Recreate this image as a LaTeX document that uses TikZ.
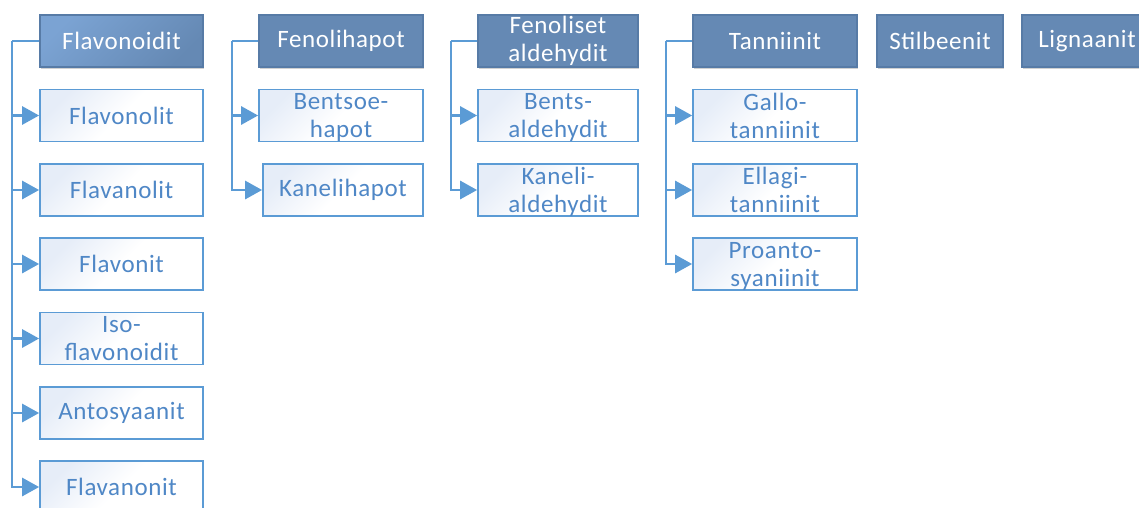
\documentclass[tikz,border=0pt]{standalone}
\usepackage{fontspec}
\setmainfont[LetterSpace=2.5]{Carlito}
\usetikzlibrary{arrows.meta,shadows}
\definecolor{headfill}{HTML}{6589B4}
\definecolor{headdraw}{HTML}{577BA6}
\definecolor{headlight}{HTML}{7BA3D3}
\definecolor{childdraw}{HTML}{5B9BD5}
\definecolor{childtext}{HTML}{4F87C6}
\definecolor{childlight}{HTML}{E6EDF8}
\definecolor{conncol}{HTML}{5B9BD5}
\tikzset{
  headbox/.style={rectangle, draw=headdraw, line width=1.2pt, fill=headfill,
    text=white, minimum height=52pt, inner sep=0pt, align=center,
    font=\fontsize{25}{28}\selectfont,
    drop shadow={shadow xshift=0.5pt, shadow yshift=-2pt, opacity=0.18, fill=black}},
  childbox/.style={rectangle, draw=childdraw, line width=1.7pt,
    top color=childlight, bottom color=white, middle color=white, shading angle=45,
    text=childtext, minimum height=52pt, inner sep=0pt, align=center,
    font=\fontsize{25}{28}\selectfont},
  twoline/.style={text depth=0pt},
  bus/.style={draw=conncol, line width=2.8pt},
  arr/.style={draw=conncol, line width=2.8pt,
    -{Triangle[length=17pt,width=18pt,fill=conncol]}}
}
\begin{document}
\begin{tikzpicture}[x=1pt,y=-1pt]
\useasboundingbox (0,0) rectangle (1139,508);
% headers
\node[headbox, minimum width=163pt, top color=headlight, bottom color=headfill, shading angle=45] (flav) at (121.5,41) {Flavonoidit};
\node[headbox, minimum width=164pt] (fenh) at (341,41) {Fenolihapot};
\node[headbox, minimum width=160pt] (fena) at (558,41) {Fenoliset\\aldehydit};
\node[headbox, minimum width=164pt] (tann) at (775,41) {Tanniinit};
\node[headbox, minimum width=126pt] (stil) at (940,41) {Stilbeenit};
\node[headbox, minimum width=130pt] (lign) at (1087,41) {Lignaanit};
% Flavonoidit children
\node[childbox, minimum width=163pt] (f1) at (121.5,115.5) {Flavonolit};
\node[childbox, minimum width=163pt] (f2) at (121.5,190) {Flavanolit};
\node[childbox, minimum width=163pt] (f3) at (121.5,264) {Flavonit};
\node[childbox, twoline, minimum width=163pt] (f4) at (121.5,338.5) {Iso-\\flavonoidit};
\node[childbox, minimum width=163pt] (f5) at (121.5,413) {Antosyaanit};
\node[childbox, minimum width=163pt] (f6) at (121.5,487) {Flavanonit};
% Fenolihapot children
\node[childbox, twoline, minimum width=164pt] (h1) at (341,115.5) {Bentsoe-\\hapot};
\node[childbox, minimum width=160pt] (h2) at (343,190) {Kanelihapot};
% Fenoliset aldehydit children
\node[childbox, twoline, minimum width=160pt] (a1) at (558,115.5) {Bents-\\aldehydit};
\node[childbox, twoline, minimum width=160pt] (a2) at (558,190) {Kaneli-\\aldehydit};
% Tanniinit children
\node[childbox, twoline, minimum width=164pt] (t1) at (775,115.5) {Gallo-\\tanniinit};
\node[childbox, twoline, minimum width=164pt] (t2) at (775,190) {Ellagi-\\tanniinit};
\node[childbox, twoline, minimum width=164pt] (t3) at (775,264) {Proanto-\\syaniinit};
% bus coordinates
\coordinate (fbus) at (12,41);
\coordinate (hbus) at (232,41);
\coordinate (abus) at (451,41);
\coordinate (tbus) at (666,41);
% connectors
\draw[bus] (flav.west) -- (fbus);
\foreach \c in {f1,f2,f3,f4,f5,f6} \draw[arr] (fbus) |- (\c.west);
\draw[bus] (fenh.west) -- (hbus);
\foreach \c in {h1,h2} \draw[arr] (hbus) |- (\c.west);
\draw[bus] (fena.west) -- (abus);
\foreach \c in {a1,a2} \draw[arr] (abus) |- (\c.west);
\draw[bus] (tann.west) -- (tbus);
\foreach \c in {t1,t2,t3} \draw[arr] (tbus) |- (\c.west);
\end{tikzpicture}
\end{document}
